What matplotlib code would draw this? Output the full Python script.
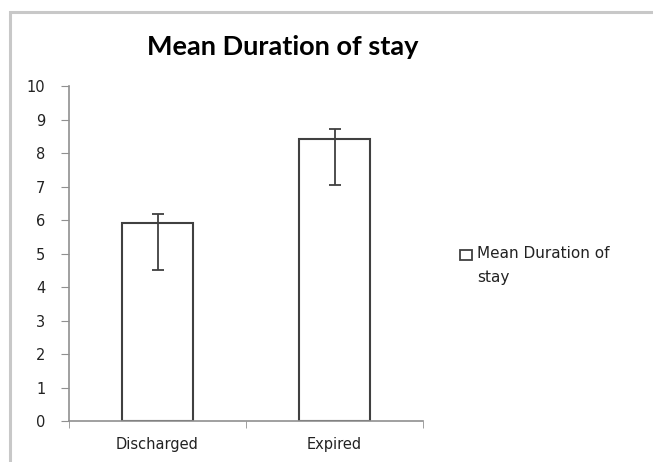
import matplotlib.pyplot as plt
from matplotlib.patches import Rectangle

categories = ['Discharged', 'Expired']
means = [5.91, 8.43]
err_low = [1.39, 1.38]
err_high = [0.29, 0.30]
yticks = list(range(0, 11))
series_name = 'Mean Duration of stay'

fig = plt.figure(figsize=(6.53, 4.62), dpi=100)

# outer chart frame (runs off the right and bottom edges)
fig.patches.append(Rectangle((10 / 653, -0.1), 1.2, 1 - 12 / 462 + 0.1,
                             transform=fig.transFigure, fill=False,
                             edgecolor='#c8c8c8', linewidth=2.2))

ax = fig.add_axes([69 / 653, 1 - 421.3 / 462, 354 / 653, 335 / 462])
x = range(len(categories))
ax.bar(x, means, width=0.4, color='white', edgecolor='#404040', linewidth=1.5, zorder=2)
ax.errorbar(x, means, yerr=[err_low, err_high], fmt='none', ecolor='#404040',
            elinewidth=1.3, capsize=4, capthick=1.3, zorder=3)

ax.set_xlim(-0.5, 1.5)
ax.set_ylim(0, 10)
ax.set_yticks(yticks)
ax.set_xticks(list(x))
ax.set_xticklabels(categories)
ax.set_xticks([-0.5, 0.5, 1.5], minor=True)
ax.tick_params(axis='x', which='major', length=0, pad=11, labelsize=10.5)
ax.tick_params(axis='x', which='minor', length=5, color='#909090', direction='out')
ax.tick_params(axis='y', length=6, color='#909090', direction='out', pad=11, labelsize=10.5)
for lab in ax.get_xticklabels() + ax.get_yticklabels():
    lab.set_family('DejaVu Sans')
    lab.set_color('#222222')
for s in ['top', 'right']:
    ax.spines[s].set_visible(False)
for s in ['left', 'bottom']:
    ax.spines[s].set_color('#909090')
    ax.spines[s].set_linewidth(1.2)

fig.text(283 / 653, 1 - 47 / 462, series_name, ha='center', va='center',
         fontsize=19.5, fontweight='bold', family='Lato')

# legend drawn by hand: key box on the first line of a wrapped label
fig.patches.append(Rectangle((460 / 653, 1 - 260 / 462), 12 / 653, 10 / 462,
                             transform=fig.transFigure, facecolor='white',
                             edgecolor='#404040', linewidth=1.3))
fig.text(477 / 653, 1 - 246 / 462, 'Mean Duration of\nstay', ha='left', va='top',
         fontsize=11, family='DejaVu Sans', color='#222222', linespacing=1.75)

fig.savefig('out.png', dpi=100)
